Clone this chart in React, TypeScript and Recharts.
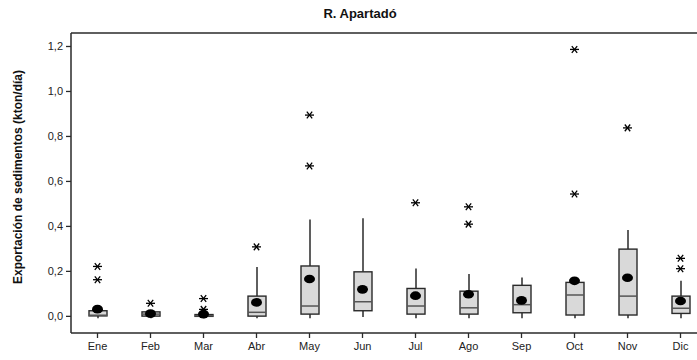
import { ComposedChart, Bar, Scatter, XAxis, YAxis, ReferenceLine } from "recharts";

const months = ["Ene", "Feb", "Mar", "Abr", "May", "Jun", "Jul", "Ago", "Sep", "Oct", "Nov", "Dic"];
const whiskerLow = [0, 0, 0, 0, 0.001, 0.006, 0, 0, 0, 0, 0, 0];
const q1 = [0.002, 0.001, 0.0, 0.001, 0.01, 0.025, 0.01, 0.01, 0.016, 0.006, 0.006, 0.013];
const medians = [0.005, 0.01, 0.003, 0.018, 0.046, 0.065, 0.046, 0.038, 0.052, 0.095, 0.09, 0.036];
const q3 = [0.025, 0.02, 0.008, 0.09, 0.224, 0.198, 0.124, 0.112, 0.138, 0.151, 0.299, 0.09];
const whiskerHigh = [0.025, 0.028, 0.008, 0.22, 0.431, 0.436, 0.213, 0.188, 0.173, 0.151, 0.384, 0.158];
const means = [0.032, 0.012, 0.01, 0.062, 0.166, 0.12, 0.092, 0.098, 0.071, 0.158, 0.172, 0.068];
const outlierA = [0.222, 0.058, 0.079, 0.309, 0.895, null, 0.505, 0.487, null, 1.187, 0.838, 0.258];
const outlierB = [0.163, null, 0.031, null, 0.669, null, null, 0.41, null, 0.544, null, 0.212];
const yTicks = [0, 0.2, 0.4, 0.6, 0.8, 1.0, 1.2];

const data = months.map((m, i) => ({
  month: m,
  range: [whiskerLow[i], whiskerHigh[i]],
  lo: whiskerLow[i],
  hi: whiskerHigh[i],
  q1: q1[i],
  med: medians[i],
  q3: q3[i],
  mean: means[i],
  o1: outlierA[i],
  o2: outlierB[i],
}));

const FONT = "'Liberation Sans', Arial, Helvetica, sans-serif";
const INK = "#2a2a2a";

// draws whiskers, box and median inside the pixel span the bar gets for [lo, hi]
function BoxShape(props: any) {
  const { x, y, width, height, payload } = props;
  if (payload == null || y == null) return <g />;
  const top = Math.min(y, y + height);
  const bottom = Math.max(y, y + height);
  const span = payload.hi - payload.lo;
  const px = (v: number) => bottom - ((v - payload.lo) / span) * (bottom - top);
  const cx = x + width / 2;
  const yq1 = px(payload.q1);
  const yq3 = px(payload.q3);
  const ymed = px(payload.med);
  return (
    <g>
      <line x1={cx} x2={cx} y1={top} y2={yq3} stroke={INK} strokeWidth={1.5} />
      <line x1={cx} x2={cx} y1={yq1} y2={bottom + 2} stroke={INK} strokeWidth={1.5} />
      <rect x={x} y={yq3} width={width} height={Math.max(yq1 - yq3, 1.5)} fill="#d9d9d9" stroke={INK} strokeWidth={1.4} />
      <line x1={x} x2={x + width} y1={ymed} y2={ymed} stroke="#555" strokeWidth={1.5} />
    </g>
  );
}

function MeanDot(props: any) {
  const { cx, cy } = props;
  if (cx == null || cy == null || isNaN(cy)) return <g />;
  return <ellipse cx={cx} cy={cy} rx={5.5} ry={4.3} fill="#000" />;
}

function Asterisk(props: any) {
  const { cx, cy, payload, dataKey } = props;
  if (cx == null || cy == null || isNaN(cy)) return <g />;
  if (payload && dataKey && payload[dataKey] == null) return <g />;
  const r = 4.5;
  const dx = r * 0.6;
  const dy = r * 0.75;
  return (
    <g stroke="#000" strokeWidth={1.3}>
      <line x1={cx - r} x2={cx + r} y1={cy} y2={cy} />
      <line x1={cx - dx} x2={cx + dx} y1={cy - dy} y2={cy + dy} />
      <line x1={cx - dx} x2={cx + dx} y1={cy + dy} y2={cy - dy} />
    </g>
  );
}

const fmt = (v: number) => v.toFixed(1).replace(".", ",");

export default function App() {
  return (
    <div style={{ position: "absolute", left: 0, top: 0, width: 697, height: 360, overflow: "hidden", background: "#fff" }}>
      <div
        style={{
          position: "absolute",
          left: 260,
          top: 7,
          width: 200,
          textAlign: "center",
          fontFamily: FONT,
          fontWeight: "bold",
          fontSize: 13,
          lineHeight: "13px",
          color: "#111",
        }}
      >
        R. Apartadó
      </div>
      <ComposedChart width={720} height={360} data={data} margin={{ top: 33, right: 13, bottom: 0, left: 0 }}>
        <XAxis
          dataKey="month"
          allowDuplicatedCategory={false}
          height={27}
          tickSize={5}
          tickMargin={4}
          tick={{ fontFamily: FONT, fontSize: 11, fill: "#222" }}
          axisLine={{ stroke: INK, strokeWidth: 1.5 }}
          tickLine={{ stroke: INK, strokeWidth: 1.3 }}
        />
        <YAxis
          type="number"
          domain={[-0.074, 1.26]}
          ticks={yTicks}
          allowDataOverflow
          width={71}
          tickSize={5}
          tickMargin={3}
          tickFormatter={fmt}
          tick={{ fontFamily: FONT, fontSize: 11, fill: "#222" }}
          axisLine={{ stroke: INK, strokeWidth: 1.5 }}
          tickLine={{ stroke: INK, strokeWidth: 1.3 }}
          label={{
            content: () => (
              <text
                x={22}
                y={177}
                transform="rotate(-90, 22, 177)"
                textAnchor="middle"
                fontFamily={FONT}
                fontWeight="bold"
                fontSize={12}
                fill="#111"
              >
                Exportación de sedimentos (kton/día)
              </text>
            ),
          }}
        />
        <ReferenceLine y={1.26} stroke={INK} strokeWidth={1.5} />
        <Bar dataKey="range" barSize={18} shape={BoxShape} isAnimationActive={false} />
        <Scatter dataKey="mean" shape={MeanDot} isAnimationActive={false} />
        <Scatter dataKey="o1" shape={(p: any) => <Asterisk {...p} dataKey="o1" />} isAnimationActive={false} />
        <Scatter dataKey="o2" shape={(p: any) => <Asterisk {...p} dataKey="o2" />} isAnimationActive={false} />
      </ComposedChart>
    </div>
  );
}
